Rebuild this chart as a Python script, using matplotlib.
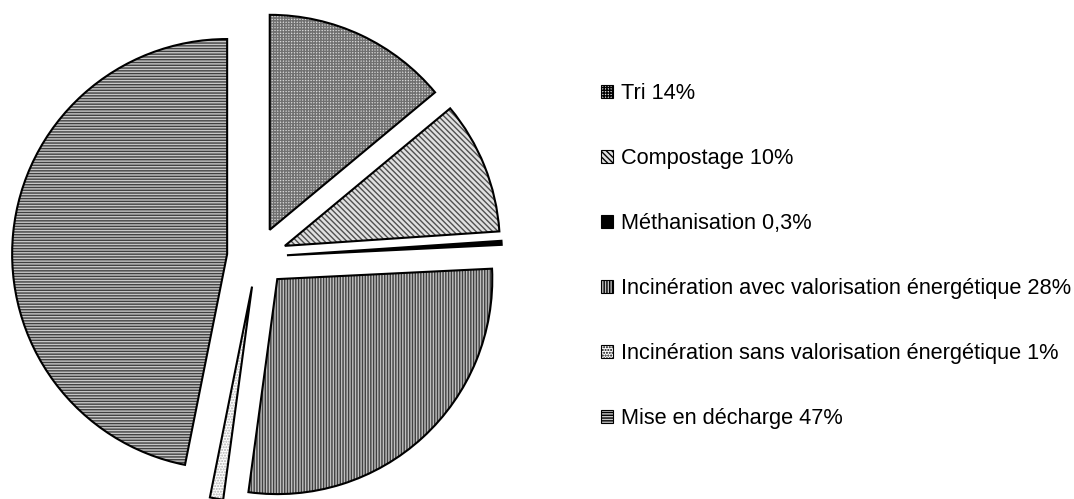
import matplotlib
matplotlib.use('Agg')
import matplotlib.pyplot as plt

labels = [
    'Tri 14%',
    'Compostage 10%',
    'Méthanisation 0,3%',
    'Incinération avec valorisation énergétique 28%',
    'Incinération sans valorisation énergétique 1%',
    'Mise en décharge 47%',
]
shares = [14, 10, 0.3, 28, 1, 47]

face_colors = ['#d8d8d8', '#e0e0e0', '#000000', '#c0c0c0', '#ffffff', '#c8c8c8']
hatch_colors = ['#707070', '#505050', '#000000', '#404040', '#b0b0b0', '#404040']
hatches = ['++++++', '\\\\\\\\\\\\', '', '||||||', '......', '------']

plt.rcParams['font.family'] = ['Liberation Sans', 'DejaVu Sans']

fig = plt.figure(figsize=(10.74, 4.99), dpi=100)
ax = fig.add_axes([0, 0, 1, 1])

# explode is in data units here (axes spans the figure in pixels)
explode = [30] * len(shares)
center = (257, 499 - 257)
radius = 215

# hatched fill
wedges, _ = ax.pie(shares, explode=explode, startangle=90, counterclock=False,
                   center=center, radius=radius,
                   wedgeprops=dict(linewidth=0))
for w, fc, hc, h in zip(wedges, face_colors, hatch_colors, hatches):
    w.set_facecolor(fc)
    w.set_edgecolor(hc)
    w.set_hatch(h)

# black outlines on top
outlines, _ = ax.pie(shares, explode=explode, startangle=90, counterclock=False,
                     center=center, radius=radius,
                     wedgeprops=dict(fill=False, edgecolor='black', linewidth=1.5))

ax.set_xlim(0, 1074)
ax.set_ylim(0, 499)
ax.set_aspect('equal')
ax.axis('off')

# legend handles: small hatched squares
handles = []
for fc, hc, h in zip(face_colors, hatch_colors, hatches):
    p = plt.Rectangle((0, 0), 1, 1, facecolor=fc, edgecolor='black', hatch=h, linewidth=0.8)
    handles.append(p)

fig.legend(handles, labels, loc='center left', bbox_to_anchor=(0.5596, 0.487),
           frameon=False, fontsize=15.7, handlelength=0.55, handleheight=0.55,
           handletextpad=0.35, labelspacing=2.02, borderpad=0, borderaxespad=0)

fig.savefig('out.png', dpi=100)
